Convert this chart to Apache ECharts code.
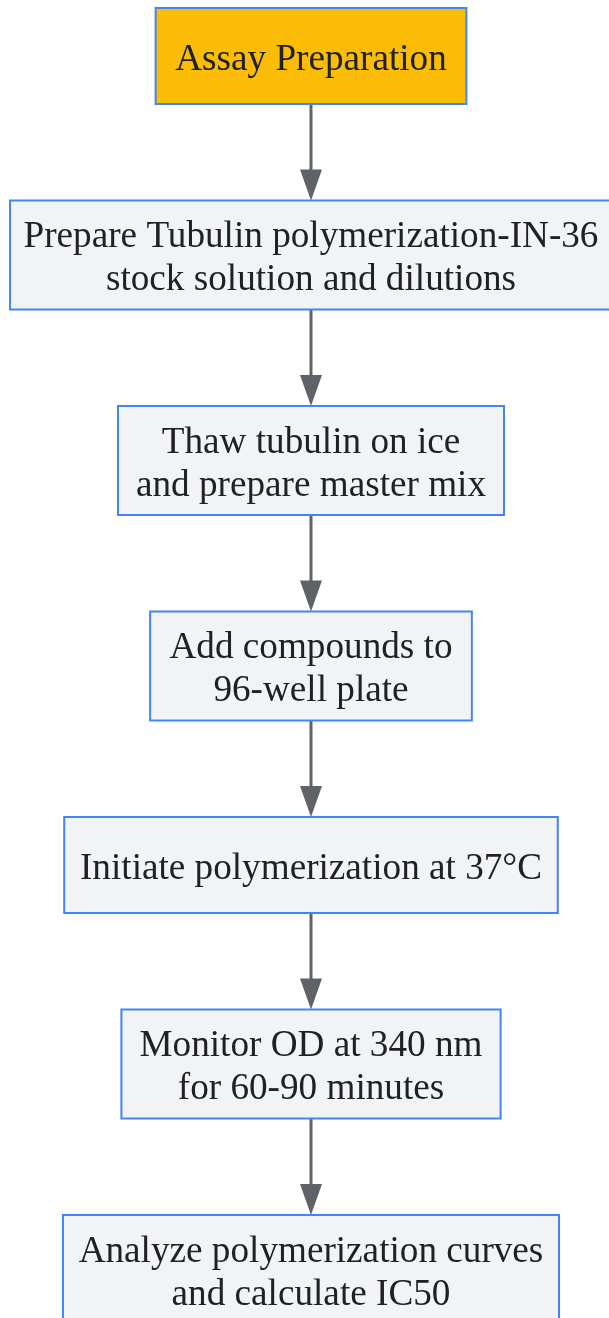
<!DOCTYPE html>
<html>
<head>
<meta charset="utf-8">
<script src="https://cdn.jsdelivr.net/npm/echarts@6/dist/echarts.min.js"></script>
<style>
html,body{margin:0;padding:0;background:#ffffff;}
#chart{width:609px;height:1318px;}
</style>
</head>
<body>
<div id="chart"></div>
<script>
// ---- data ----
const steps = [
  "Assay Preparation",
  "Prepare Tubulin polymerization-IN-36\nstock solution and dilutions",
  "Thaw tubulin on ice\nand prepare master mix",
  "Add compounds to\n96-well plate",
  "Initiate polymerization at 37°C",
  "Monitor OD at 340 nm\nfor 60-90 minutes",
  "Analyze polymerization curves\nand calculate IC50"
];
const stepKinds = ["start", "step", "step", "step", "step", "step", "step"];
const edges = [[0,1],[1,2],[2,3],[3,4],[4,5],[5,6]];

// ---- style / layout ----
const FONT_SIZE = 37.2;
const FONT_FAMILY = '"Liberation Serif", "Times New Roman", serif';
const LINE_H = 43;
const TEXT_DY = 4;
const W_SCALE = 0.96, W_EXTRA = 50;
const H1 = 96, H2 = 109, GAP = 96.5, TOP0 = 8, CX = 311;
const COLORS = { start: '#FBBC05', step: '#F1F3F4', border: '#4285F4', text: '#202124', edge: '#5F6368' };

const canvas = document.createElement('canvas');
const ctx = canvas.getContext('2d');
ctx.font = FONT_SIZE + 'px ' + FONT_FAMILY;

const layout = [];
let y = TOP0;
steps.forEach(function (s, i) {
  const lines = s.split('\n');
  const tw = Math.max.apply(null, lines.map(function (l) { return ctx.measureText(l).width; }));
  const w = tw * W_SCALE + W_EXTRA;
  const h = lines.length > 1 ? H2 : H1;
  layout.push({ cx: CX, top: y, w: w, h: h });
  y += h + GAP;
});

const nodeData = steps.map(function (s, i) {
  return [layout[i].cx, layout[i].top, layout[i].w, layout[i].h, i];
});
const edgeData = edges.map(function (e) {
  const a = layout[e[0]], b = layout[e[1]];
  return [a.cx, a.top + a.h, b.top, e[0]];
});

const chart = echarts.init(document.getElementById('chart'), null, { renderer: 'canvas' });
chart.setOption({
  animation: false,
  backgroundColor: '#ffffff',
  grid: { left: 0, right: 0, top: 0, bottom: 0 },
  xAxis: { type: 'value', min: 0, max: 609, show: false },
  yAxis: { type: 'value', min: 0, max: 1318, inverse: true, show: false },
  series: [
    {
      type: 'custom',
      coordinateSystem: 'cartesian2d',
      data: edgeData,
      encode: { x: 0, y: [1, 2] },
      renderItem: function (params, api) {
        const p1 = api.coord([api.value(0), api.value(1)]);
        const p2 = api.coord([api.value(0), api.value(2)]);
        const headH = 31, headW = 11;
        return {
          type: 'group',
          children: [
            { type: 'line', shape: { x1: p1[0], y1: p1[1], x2: p2[0], y2: p2[1] - headH + 2 },
              style: { stroke: COLORS.edge, lineWidth: 3 } },
            { type: 'polygon', shape: { points: [[p2[0] - headW, p2[1] - headH], [p2[0] + headW, p2[1] - headH], [p2[0], p2[1]]] },
              style: { fill: COLORS.edge } }
          ]
        };
      },
      z: 1
    },
    {
      type: 'custom',
      coordinateSystem: 'cartesian2d',
      data: nodeData,
      encode: { x: 0, y: 1 },
      renderItem: function (params, api) {
        const cx = api.value(0), top = api.value(1), w = api.value(2), h = api.value(3);
        const idx = api.value(4);
        const tl = api.coord([cx - w / 2, top]);
        const br = api.coord([cx + w / 2, top + h]);
        const c = api.coord([cx, top + h / 2]);
        return {
          type: 'group',
          children: [
            { type: 'rect', shape: { x: tl[0], y: tl[1], width: br[0] - tl[0], height: br[1] - tl[1] },
              style: { fill: stepKinds[idx] === 'start' ? COLORS.start : COLORS.step, stroke: COLORS.border, lineWidth: 2 } },
            { type: 'text', x: c[0], y: c[1] + TEXT_DY,
              style: { text: steps[idx], fill: COLORS.text, font: FONT_SIZE + 'px ' + FONT_FAMILY,
                align: 'center', verticalAlign: 'middle', lineHeight: LINE_H } }
          ]
        };
      },
      z: 2
    }
  ]
});
</script>
</body>
</html>
